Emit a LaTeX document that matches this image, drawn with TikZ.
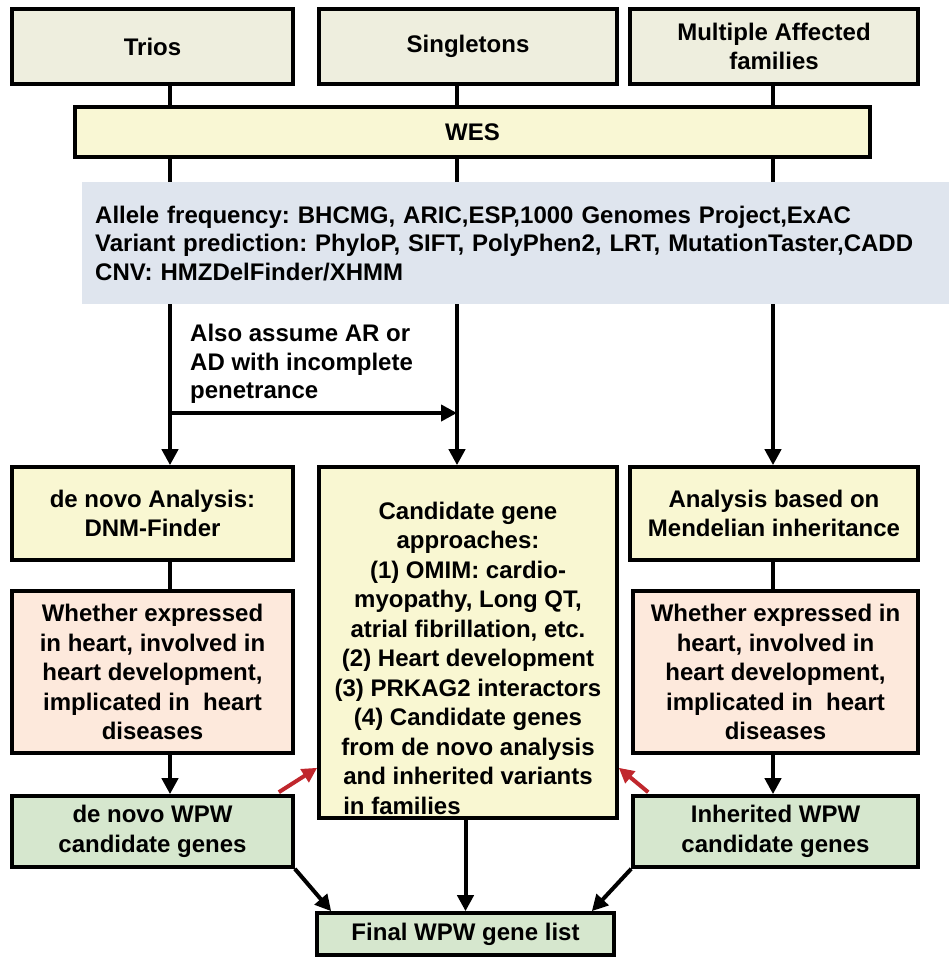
\documentclass[tikz,border=0pt]{standalone}
\usepackage{fontspec}
\setmainfont{Liberation Sans}
\usetikzlibrary{arrows.meta,calc}

\definecolor{topfill}{RGB}{238,238,222}
\definecolor{wesfill}{RGB}{249,247,212}
\definecolor{bandfill}{RGB}{223,229,238}
\definecolor{yelfill}{RGB}{249,247,210}
\definecolor{pinkfill}{RGB}{253,233,220}
\definecolor{greenfill}{RGB}{214,231,206}
\definecolor{arrowred}{RGB}{192,39,45}

\frenchspacing
\begin{document}
\begin{tikzpicture}[x=1pt,y=-1pt,
  >={Triangle[length=16pt,width=16pt]},
  box/.style={draw, line width=3.6pt, inner sep=0pt, align=center,
    font=\bfseries\fontsize{24}{29.5}\selectfont},
  txt/.style={inner sep=0pt, font=\bfseries\fontsize{24}{28.5}\selectfont},
  conn/.style={line width=4pt},
  redconn/.style={line width=4pt, arrowred, -{Triangle[length=15pt,width=15pt]}}]
\useasboundingbox (0,0) rectangle (948,957);

%columns of the flow
\coordinate (colA) at (170,0);
\coordinate (colB) at (457,0);
\coordinate (colC) at (773,0);

%sample types
\node[box, fill=topfill, minimum width=281, minimum height=75] (trios) at (152.5,46.5) {Trios};
\node[box, fill=topfill, minimum width=298, minimum height=75] (single) at (468,46.5) {Singletons};
\node[box, fill=topfill, minimum width=288, minimum height=75] (multi) at (774,46.5) {Multiple Affected\\families};
\node[box, fill=wesfill, minimum width=795, minimum height=50] (wes) at (472.5,132) {WES};

%analysis boxes
\node[box, fill=yelfill, minimum width=281, minimum height=93] (denovo) at (152.5,513.5) {de novo Analysis:\\DNM-Finder};
\node[box, fill=yelfill, minimum width=298, minimum height=351] (cand) at (468,642.5) {};
\node[box, fill=yelfill, minimum width=288, minimum height=93] (mendel) at (774,513.5) {Analysis based on\\Mendelian inheritance};
\node[txt, align=center, anchor=south, font=\bfseries\fontsize{24}{29.5}\selectfont] (candtxt) at ([yshift=5pt]cand.south)
  {Candidate gene\\approaches:\\(1) OMIM: cardio-\\myopathy, Long QT,\\atrial fibrillation, etc.\\
   (2) Heart development\\(3) PRKAG2 interactors\\(4) Candidate genes\\from de novo analysis\\
   and inherited variants\\\rlap{in families}\phantom{and inherited variants}};

%filters
\node[box, fill=pinkfill, minimum width=281, minimum height=162] (pinkL) at (152.5,672)
  {Whether expressed\\in heart, involved in\\heart development,\\implicated in~ heart\\diseases};
\node[box, fill=pinkfill, minimum width=285, minimum height=162] (pinkR) at (775.5,672)
  {Whether expressed in\\heart, involved in\\heart development,\\implicated in~ heart\\diseases};

%results
\node[box, fill=greenfill, minimum width=281, minimum height=71] (greenL) at (152.5,831.5) {de novo WPW\\candidate genes};
\node[box, fill=greenfill, minimum width=285, minimum height=71] (greenR) at (775.5,831.5) {Inherited WPW\\candidate genes};
\node[box, fill=greenfill, minimum width=297, minimum height=42] (final) at (465.5,934) {Final WPW gene list};

%top lines
\draw[conn] (trios.south -| colA) -- (wes.north -| colA);
\draw[conn] (single.south -| colB) -- (wes.north -| colB);
\draw[conn] (multi.south -| colC) -- (wes.north -| colC);

%down arrows
\draw[conn,->] (wes.south -| colA) -- (denovo.north -| colA);
\draw[conn,->] (wes.south -| colB) -- (cand.north -| colB);
\draw[conn,->] (wes.south -| colC) -- (mendel.north -| colC);
\coordinate (split) at (170,413);
\draw[conn,->] (split) -- (split -| colB);
\node[txt, align=left, anchor=west] (assume) at (190,364) {Also assume AR or\\AD with incomplete\\penetrance};

%database band
\node[txt, fill=bandfill, align=left, text width=870, inner xsep=13pt, minimum height=122,
  anchor=north west] (band) at (82,182)
  {Allele frequency: BHCMG, ARIC,ESP,1000 Genomes Project,ExAC\\
   Variant prediction: PhyloP, SIFT, PolyPhen2, LRT, MutationTaster,CADD\\
   CNV: HMZDelFinder/XHMM};

%lower lines
\draw[conn] (denovo.south -| colA) -- (pinkL.north -| colA);
\draw[conn] (mendel.south -| colC) -- (pinkR.north -| colC);
\draw[conn,->] (pinkL.south -| colA) -- (greenL.north -| colA);
\draw[conn,->] (pinkR.south -| colC) -- (greenR.north -| colC);

%feedback to candidate genes
\draw[redconn] ([xshift=-16pt,yshift=2pt]greenL.north east) -- ([yshift=52pt]cand.south west);
\draw[redconn] ([xshift=17pt,yshift=2pt]greenR.north west) -- ([yshift=52pt]cand.south east);

%final list
\draw[conn,->] (greenL.south east) -- ([xshift=16pt]final.north west);
\draw[conn,->] (cand.south -| final) -- (final.north);
\draw[conn,->] (greenR.south west) -- ([xshift=-24pt]final.north east);

\end{tikzpicture}
\end{document}
